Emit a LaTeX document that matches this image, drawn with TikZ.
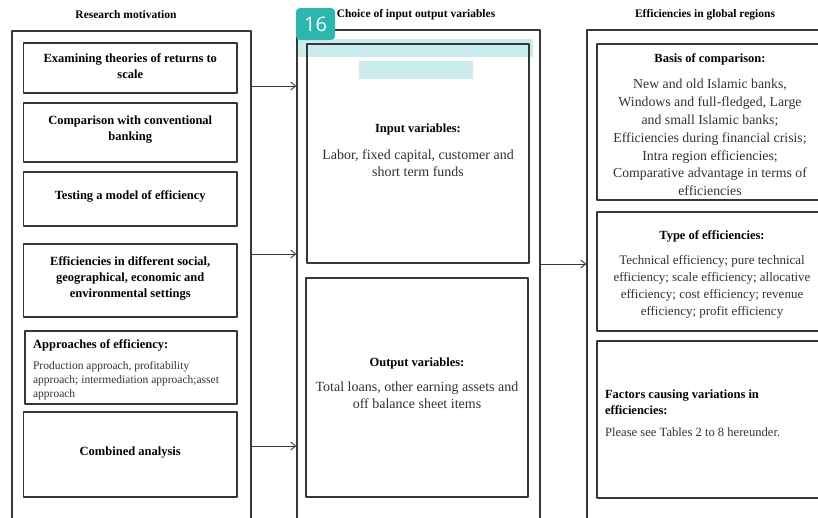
\documentclass[tikz,border=0pt]{standalone}
\usepackage{fontspec}
\setmainfont{Liberation Serif}
\newfontfamily\badgefont{Open Sans}
\usetikzlibrary{arrows.meta}

\definecolor{linegray}{RGB}{55,55,55}
\definecolor{textgray}{RGB}{50,50,50}
\definecolor{badgeteal}{RGB}{44,182,175}
\definecolor{bandteal}{RGB}{202,236,236}

\newcommand{\boxtitle}[1]{{\fontsize{12.5}{16}\selectfont\bfseries\color{black}#1}}

\begin{document}
\begin{tikzpicture}[line cap=round,line join=round,>={Straight Barb[length=5pt,width=8pt]},x=1pt,y=-1pt,
  outerbox/.style={draw=linegray,line width=1.3pt,inner sep=0pt},
  innerbox/.style={draw=linegray,line width=1.2pt,inner sep=0pt},
  boxtext/.style={inner sep=0pt,align=center,text=textgray},
  lefttext/.style={boxtext,text=black,font=\fontsize{12.5}{16}\selectfont\bfseries},
  vartext/.style={boxtext,font=\fontsize{14}{17}\selectfont},
  notetext/.style={boxtext,align=left},
  coltitle/.style={inner sep=0pt,font=\fontsize{11.5}{13}\selectfont\bfseries},
  arr/.style={->,draw=linegray,line width=0.9pt}]
\useasboundingbox (0,0) rectangle (818,517);
\clip (0,0) rectangle (818,517);

% light marks under the boxes
\fill[bandteal] (297,39) rectangle (533,57);
\fill[bandteal] (359,61) rectangle (473,79);

% column titles
\node[coltitle] (t1) at (126,15) {Research motivation};
\node[coltitle] (t2) at (416,15) {Choice of input output variables};
\node[coltitle] (t3) at (705,15) {Efficiencies in global regions};

% outer columns
\node[outerbox,minimum width=239pt,minimum height=510pt] (lcol) at (131.5,286) {};
\node[outerbox,minimum width=243pt,minimum height=510pt] (mcol) at (418.5,285) {};
\node[outerbox,minimum width=253pt,minimum height=510pt] (rcol) at (713.5,285) {};

% research motivation
\node[innerbox,minimum width=213.5pt,minimum height=50pt] (b1) at (130.25,68) {};
\node[innerbox,minimum width=213.5pt,minimum height=59pt] (b2) at (130.25,132.5) {};
\node[innerbox,minimum width=213.5pt,minimum height=54pt] (b3) at (130.25,199) {};
\node[innerbox,minimum width=213.5pt,minimum height=73pt] (b4) at (130.25,280.5) {};
\node[innerbox,minimum width=212pt,minimum height=73pt] (b5) at (131,367.5) {};
\node[innerbox,minimum width=213.5pt,minimum height=85pt] (b6) at (130.25,454.5) {};

\node[lefttext] (b1t) at ([yshift=2pt]b1.center) {Examining theories of returns to\\scale};
\node[lefttext] (b2t) at ([yshift=3pt]b2.center) {Comparison with conventional\\banking};
\node[lefttext] (b3t) at ([yshift=3pt]b3.center) {Testing a model of efficiency};
\node[lefttext] (b4t) at ([yshift=2pt]b4.center) {Efficiencies in different social,\\geographical, economic and\\environmental settings};
\node[notetext,anchor=west,font=\fontsize{11.5}{14}\selectfont] (b5t) at ([xshift=8.5pt,yshift=-2.5pt]b5.west)
  {\boxtitle{Approaches of efficiency:}\\[7pt]Production approach, profitability\\approach; intermediation approach;asset\\approach};
\node[lefttext] (b6t) at ([yshift=2pt]b6.center) {Combined analysis};

% input / output
\node[innerbox,minimum width=222pt,minimum height=219pt] (inp) at (418,153.5) {};
\node[innerbox,minimum width=222pt,minimum height=219pt] (outp) at (417,387.5) {};

\node[vartext] (inpt) at ([yshift=3.5pt]inp.center)
  {\boxtitle{Input variables:}\\[10pt]Labor, fixed capital, customer and\\short term funds};
\node[vartext] (outpt) at ([yshift=4pt]outp.center)
  {\boxtitle{Output variables:}\\[8pt]Total loans, other earning assets and\\off balance sheet items};

% global regions
\node[innerbox,minimum width=230pt,minimum height=156pt] (r1) at (712,122) {};
\node[innerbox,minimum width=230pt,minimum height=119pt] (r2) at (712,271.5) {};
\node[innerbox,minimum width=230pt,minimum height=157pt] (r3) at (712,419.5) {};

\node[vartext,font=\fontsize{13.8}{17.8}\selectfont] (r1t) at ([xshift=-2pt,yshift=-2.5pt]r1.center)
  {\boxtitle{Basis of comparison:}\\[9pt]New and old Islamic banks,\\Windows and full-fledged, Large\\and small Islamic banks;\\Efficiencies during financial crisis;\\Intra region efficiencies;\\Comparative advantage in terms of\\efficiencies};
\node[vartext,font=\fontsize{13}{17}\selectfont] (r2t) at ([yshift=-3pt]r2.center)
  {\boxtitle{Type of efficiencies:}\\[8pt]Technical efficiency; pure technical\\efficiency; scale efficiency; allocative\\efficiency; cost efficiency; revenue\\efficiency; profit efficiency};
\node[notetext,anchor=west,font=\fontsize{12.6}{16}\selectfont] (r3t) at ([xshift=8.5pt,yshift=6.5pt]r3.west)
  {\boxtitle{Factors causing variations in}\\\boxtitle{efficiencies:}\\[6pt]Please see Tables 2 to 8 hereunder.};

% links between columns
\draw[arr] (lcol.east |- 0,86) -- (mcol.west |- 0,86);
\draw[arr] (lcol.east |- 0,254) -- (mcol.west |- 0,254);
\draw[arr] (lcol.east |- 0,446) -- (mcol.west |- 0,446);
\draw[arr] (mcol.east |- 0,264) -- (rcol.west |- 0,264);

% page marker
\node[fill=badgeteal,rounded corners=4pt,minimum width=39pt,minimum height=32pt,inner sep=0pt,
  text=white,font=\badgefont\fontsize{20}{22}\selectfont] (badge) at (315.5,24) {16};

\end{tikzpicture}
\end{document}
